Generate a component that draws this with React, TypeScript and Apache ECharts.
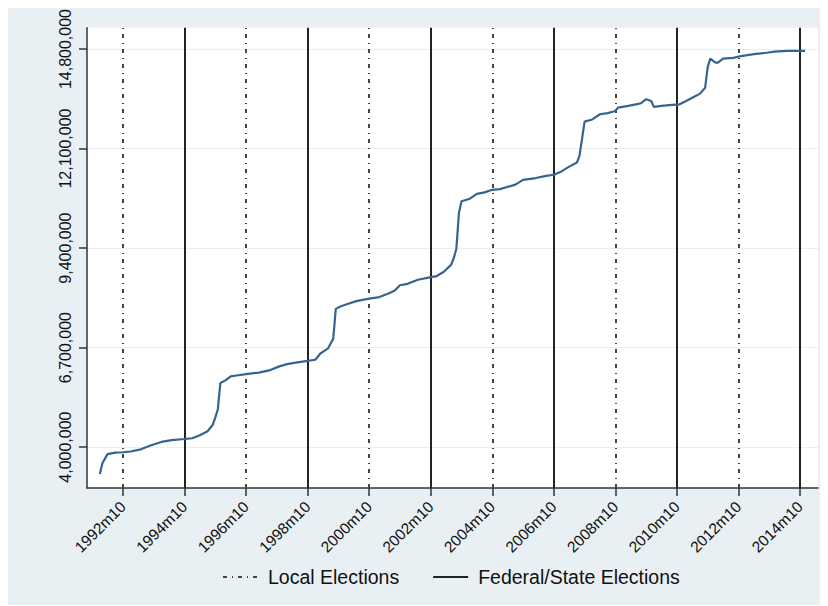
import { useEffect, useRef } from "react";
import * as echarts from "echarts";

// Monthly observations (Stata-style "YYYYmM" dates) and cumulative counts
const months = [
  "1992m1", "1992m2", "1992m4", "1992m7", "1992m10", "1993m1", "1993m5", "1993m9",
  "1994m1", "1994m5", "1994m10", "1995m1", "1995m4", "1995m7", "1995m9", "1995m10",
  "1995m11", "1995m12", "1996m2", "1996m4", "1996m7", "1996m10", "1997m3", "1997m7",
  "1997m11", "1998m2", "1998m6", "1998m10", "1999m1", "1999m3", "1999m6", "1999m8",
  "1999m9", "1999m11", "2000m1", "2000m5", "2000m10", "2001m2", "2001m6", "2001m8",
  "2001m10", "2002m1", "2002m5", "2002m10", "2002m12", "2003m3", "2003m6", "2003m7",
  "2003m8", "2003m9", "2003m10", "2004m1", "2004m4", "2004m7", "2004m10", "2005m1",
  "2005m7", "2005m10", "2006m3", "2006m7", "2006m10", "2007m1", "2007m4", "2007m7",
  "2007m8", "2007m9", "2007m10", "2008m1", "2008m4", "2008m7", "2008m10", "2008m11",
  "2009m3", "2009m6", "2009m8", "2009m10", "2009m12", "2010m1", "2010m4", "2010m7",
  "2010m11", "2011m1", "2011m4", "2011m7", "2011m9", "2011m10", "2011m11", "2012m1",
  "2012m2", "2012m4", "2012m8", "2012m11", "2013m4", "2013m9", "2013m12", "2014m5",
  "2014m10", "2014m12",
];

const counts = [
  3270000, 3560000, 3810000, 3850000, 3860000, 3880000, 3940000, 4050000,
  4140000, 4190000, 4220000, 4240000, 4320000, 4430000, 4600000, 4800000,
  5020000, 5740000, 5810000, 5920000, 5950000, 5980000, 6020000, 6080000,
  6190000, 6250000, 6300000, 6340000, 6370000, 6540000, 6680000, 6940000,
  7750000, 7820000, 7870000, 7960000, 8030000, 8070000, 8180000, 8250000,
  8390000, 8430000, 8540000, 8610000, 8630000, 8750000, 8950000, 9130000,
  9380000, 10350000, 10670000, 10730000, 10870000, 10910000, 10980000, 11000000,
  11120000, 11250000, 11300000, 11360000, 11390000, 11480000, 11610000, 11720000,
  11900000, 12360000, 12830000, 12890000, 13030000, 13060000, 13120000, 13210000,
  13260000, 13300000, 13330000, 13440000, 13390000, 13230000, 13260000, 13280000,
  13300000, 13370000, 13480000, 13590000, 13750000, 14310000, 14540000, 14430000,
  14430000, 14540000, 14560000, 14610000, 14660000, 14700000, 14730000, 14750000,
  14750000, 14750000,
];

const localElections = ["1992m10", "1996m10", "2000m10", "2004m10", "2008m10", "2012m10"];
const federalStateElections = ["1994m10", "1998m10", "2002m10", "2006m10", "2010m10", "2014m10"];

const xTickLabels = [
  "1992m10", "1994m10", "1996m10", "1998m10", "2000m10", "2002m10",
  "2004m10", "2006m10", "2008m10", "2010m10", "2012m10", "2014m10",
];
const yTickValues = [4000000, 6700000, 9400000, 12100000, 14800000];

const FONT = "'Liberation Sans', Arial, Helvetica, sans-serif";

// "1992m10" -> months since 1960m1
const parseTm = (s: string): number => {
  const [y, m] = s.split("m").map(Number);
  return (y - 1960) * 12 + (m - 1);
};
const formatTm = (v: number): string => {
  const y = 1960 + Math.floor(v / 12);
  const m = (((v % 12) + 12) % 12) + 1;
  return `${y}m${m}`;
};
const formatThousands = (v: number): string =>
  String(Math.round(v)).replace(/\B(?=(\d{3})+(?!\d))/g, ",");

const localDash = [4, 5, 1, 5];

export default function App() {
  const ref = useRef<HTMLDivElement>(null);

  useEffect(() => {
    if (!ref.current) return;
    const chart = echarts.init(ref.current, null, { renderer: "svg" });
    const xTicks = xTickLabels.map(parseTm);

    chart.setOption({
      animation: false,
      backgroundColor: "#e9f0f3",
      textStyle: { fontFamily: FONT },
      grid: {
        left: 79,
        right: 2,
        top: 21,
        bottom: 117,
        show: true,
        backgroundColor: "#ffffff",
        borderWidth: 0,
      },
      legend: {
        left: 214,
        top: 561,
        padding: 0,
        itemWidth: 35,
        itemHeight: 14,
        itemGap: 33,
        selectedMode: false,
        textStyle: {
          fontFamily: FONT,
          fontSize: 19.5,
          color: "#111",
          padding: [0, 0, 0, 5],
        },
        data: [
          {
            name: "Local Elections",
            itemStyle: { opacity: 0 },
            lineStyle: { type: localDash, width: 2, color: "#444" },
          },
          {
            name: "Federal/State Elections",
            itemStyle: { opacity: 0 },
            lineStyle: { type: "solid", width: 2, color: "#222" },
          },
        ],
      },
      xAxis: {
        type: "value",
        min: parseTm("1991m8"),
        max: parseTm("2015m5"),
        axisLine: { show: true, lineStyle: { color: "#333", width: 1.5 } },
        axisTick: {
          show: true,
          length: 8,
          customValues: xTicks,
          lineStyle: { color: "#333", width: 1.5 },
        },
        axisLabel: {
          customValues: xTicks,
          rotate: 45,
          margin: 16,
          fontSize: 15.5,
          color: "#111",
          fontFamily: FONT,
          formatter: (v: number) => formatTm(v),
        },
        splitLine: { show: false },
      },
      yAxis: {
        type: "value",
        min: 2890000,
        max: 15380000,
        axisLine: { show: true, lineStyle: { color: "#333", width: 1.5 } },
        axisTick: {
          show: true,
          length: 8,
          customValues: yTickValues,
          lineStyle: { color: "#333", width: 1.5 },
        },
        axisLabel: {
          customValues: yTickValues,
          rotate: 90,
          margin: 14,
          fontSize: 16,
          color: "#111",
          fontFamily: FONT,
          formatter: (v: number) => formatThousands(v),
        },
        splitLine: { show: true, lineStyle: { color: "#e6eff1", width: 1.2 } },
      },
      series: [
        {
          name: "Registered",
          type: "line",
          symbol: "none",
          z: 5,
          lineStyle: { color: "#36648e", width: 2.2 },
          data: months.map((m, i) => [parseTm(m), counts[i]]),
        },
        {
          name: "Local Elections",
          type: "line",
          symbol: "none",
          data: [],
          lineStyle: { color: "#444", width: 2, type: localDash },
          itemStyle: { color: "#444" },
          markLine: {
            silent: true,
            symbol: ["none", "none"],
            label: { show: false },
            lineStyle: { color: "#444", width: 2, type: localDash },
            data: localElections.map((m) => ({ xAxis: parseTm(m) })),
          },
        },
        {
          name: "Federal/State Elections",
          type: "line",
          symbol: "none",
          data: [],
          lineStyle: { color: "#222", width: 2, type: "solid" },
          itemStyle: { color: "#222" },
          markLine: {
            silent: true,
            symbol: ["none", "none"],
            label: { show: false },
            lineStyle: { color: "#222", width: 2, type: "solid" },
            data: federalStateElections.map((m) => ({ xAxis: parseTm(m) })),
          },
        },
      ],
    });

    return () => chart.dispose();
  }, []);

  return <div ref={ref} style={{ width: 812, height: 599, marginTop: -2 }} />;
}
